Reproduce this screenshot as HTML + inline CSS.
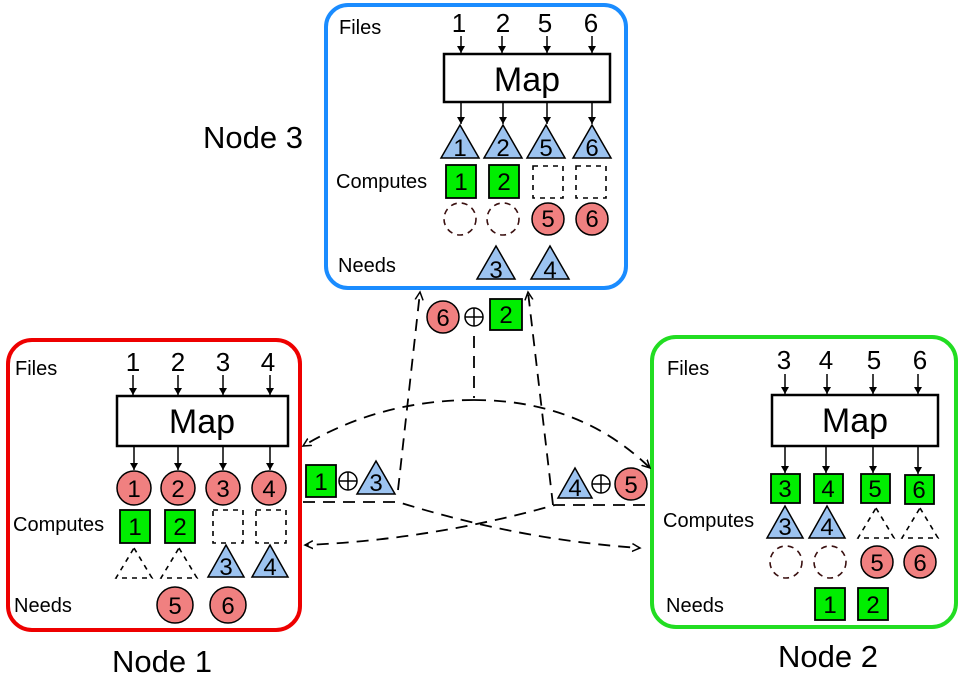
<!DOCTYPE html>
<html><head><meta charset="utf-8"><style>body{margin:0;background:#fff}svg{display:block}text{font-family:"Liberation Sans",sans-serif}</style></head><body>
<svg width="966" height="675" viewBox="0 0 966 675" xmlns="http://www.w3.org/2000/svg">
<defs>
<marker id="a" markerWidth="10" markerHeight="10" refX="8" refY="5" orient="auto" markerUnits="userSpaceOnUse"><path d="M0,1 L8,5 L0,9" fill="none" stroke="#000" stroke-width="1.5"/></marker>
<marker id="s" markerWidth="8" markerHeight="8" refX="7" refY="4" orient="auto" markerUnits="userSpaceOnUse"><path d="M0,0 L7,4 L0,8 z" fill="#000"/></marker>
</defs>
<g fill="none" stroke-width="4">
<rect x="326" y="5" width="300" height="283" rx="22" stroke="#1a8cff"/>
<rect x="8" y="340" width="292" height="290" rx="24" stroke="#ee0000"/>
<rect x="652" y="337" width="304" height="290" rx="24" stroke="#22dd22"/>
</g>
<g fill="none" stroke="#000" stroke-width="1.8" stroke-dasharray="12,8">
<path d="M474 336 L474 398"/>
<path d="M474 400 Q380 400 303 446" marker-end="url(#a)"/>
<path d="M474 400 Q580 400 650 468" marker-end="url(#a)"/>
<path d="M398 490 L420 292" marker-end="url(#a)"/>
<path d="M553 505 L528 292" marker-end="url(#a)"/>
<path d="M303 502 L398 502 Q520 540 640 548" marker-end="url(#a)"/>
<path d="M645 505 L555 505 Q430 540 305 545" marker-end="url(#a)"/>
</g>
<g font-size="20" fill="#000">
<text x="339" y="34">Files</text><text x="336" y="188">Computes</text><text x="338" y="272">Needs</text>
<text x="15" y="375">Files</text><text x="13" y="531">Computes</text><text x="14" y="612">Needs</text>
<text x="667" y="375">Files</text><text x="663" y="527">Computes</text><text x="666" y="612">Needs</text>
</g>
<g font-size="31" fill="#000">
<text x="203" y="148">Node 3</text><text x="112" y="672">Node 1</text><text x="778" y="667">Node 2</text>
</g>
<g fill="#fff" stroke="#000" stroke-width="2.5">
<rect x="444" y="54" width="166" height="48"/><rect x="117" y="396" width="171" height="50"/><rect x="772" y="395" width="166" height="51"/>
</g>
<g font-size="34" text-anchor="middle"><text x="527" y="91">Map</text><text x="202" y="433">Map</text><text x="855" y="432">Map</text></g>
<g font-size="26" text-anchor="middle">
<text x="459" y="32">1</text><text x="503" y="32">2</text><text x="545" y="32">5</text><text x="591" y="32">6</text>
<text x="133" y="371">1</text><text x="178" y="371">2</text><text x="223" y="371">3</text><text x="268" y="371">4</text>
<text x="784" y="369">3</text><text x="826" y="369">4</text><text x="874" y="369">5</text><text x="920" y="369">6</text>
</g>
<g stroke="#000" stroke-width="1.5" marker-end="url(#s)">
<line x1="461" y1="36" x2="461" y2="53"/><line x1="502" y1="36" x2="502" y2="53"/><line x1="547" y1="36" x2="547" y2="53"/><line x1="592" y1="36" x2="592" y2="53"/>
<line x1="461" y1="103" x2="461" y2="124"/><line x1="503" y1="103" x2="503" y2="124"/><line x1="547" y1="103" x2="547" y2="124"/><line x1="592" y1="103" x2="592" y2="124"/>
<line x1="133" y1="375" x2="133" y2="395"/><line x1="178" y1="375" x2="178" y2="395"/><line x1="223" y1="375" x2="223" y2="395"/><line x1="270" y1="375" x2="270" y2="395"/>
<line x1="134" y1="447" x2="134" y2="470"/><line x1="178" y1="447" x2="178" y2="470"/><line x1="223" y1="447" x2="223" y2="470"/><line x1="270" y1="447" x2="270" y2="470"/>
<line x1="785" y1="374" x2="785" y2="394"/><line x1="827" y1="374" x2="827" y2="394"/><line x1="873" y1="374" x2="873" y2="394"/><line x1="918" y1="374" x2="918" y2="394"/>
<line x1="785" y1="447" x2="785" y2="473"/><line x1="826" y1="447" x2="826" y2="473"/><line x1="873" y1="447" x2="873" y2="473"/><line x1="918" y1="447" x2="918" y2="474"/>
</g>
<g fill="#9cc3f0" stroke="#000" stroke-width="1.5">
<path d="M460 125 L479 158 L441 158Z"/><path d="M503 125 L522 158 L484 158Z"/><path d="M546 125 L565 158 L527 158Z"/><path d="M592 125 L611 158 L573 158Z"/>
<path d="M496 246 L515 279 L477 279Z"/><path d="M550 246 L569 279 L531 279Z"/>
<path d="M226 545 L244 577 L208 577Z"/><path d="M270 545 L288 577 L252 577Z"/>
<path d="M785 506 L803 538 L767 538Z"/><path d="M827 506 L845 538 L809 538Z"/>
<path d="M376 461 L395 494 L357 494Z"/><path d="M575 468 L592 498 L558 498Z"/>
</g>
<g fill="none" stroke="#000" stroke-width="1.6" stroke-dasharray="5,5">
<path d="M134 548 L152 578 L116 578Z"/><path d="M179 548 L197 578 L161 578Z"/>
<path d="M876 508 L894 538 L858 538Z"/><path d="M920 508 L938 538 L902 538Z"/>
</g>
<g fill="#00ee00" stroke="#000" stroke-width="1.8">
<rect x="446" y="165" width="30" height="33"/><rect x="489" y="165" width="30" height="33"/>
<rect x="120" y="510" width="30" height="33"/><rect x="165" y="510" width="30" height="33"/>
<rect x="771" y="474" width="29" height="29"/><rect x="814" y="474" width="29" height="29"/><rect x="861" y="474" width="29" height="29"/><rect x="905" y="475" width="29" height="29"/>
<rect x="815" y="588" width="30" height="32"/><rect x="858" y="588" width="30" height="32"/>
<rect x="306" y="465" width="30" height="32"/><rect x="490" y="299" width="32" height="31"/>
</g>
<g fill="none" stroke="#000" stroke-width="1.6" stroke-dasharray="5,5">
<rect x="533" y="166" width="30" height="32"/><rect x="576" y="166" width="30" height="32"/>
<rect x="213" y="510" width="30" height="33"/><rect x="256" y="510" width="30" height="33"/>
</g>
<g fill="#f08080" stroke="#000" stroke-width="1.5">
<circle cx="548" cy="219" r="16"/><circle cx="592" cy="219" r="16"/>
<circle cx="134" cy="488" r="17"/><circle cx="178" cy="488" r="17"/><circle cx="223" cy="488" r="17"/><circle cx="269" cy="488" r="17"/>
<circle cx="175" cy="605" r="18"/><circle cx="228" cy="605" r="18"/>
<circle cx="877" cy="562" r="16"/><circle cx="920" cy="562" r="16"/>
<circle cx="443" cy="317" r="16"/><circle cx="631" cy="484" r="16"/>
</g>
<g fill="none" stroke="#3a1010" stroke-width="1.6" stroke-dasharray="6,5">
<circle cx="460" cy="219" r="16"/><circle cx="503" cy="219" r="16"/>
<circle cx="786" cy="562" r="16"/><circle cx="830" cy="562" r="16"/>
</g>
<g fill="none" stroke="#000" stroke-width="1.5">
<circle cx="474" cy="317" r="9"/><path d="M465 317h18M474 308v18"/>
<circle cx="348" cy="481" r="9"/><path d="M339 481h18M348 472v18"/>
<circle cx="601" cy="484" r="9"/><path d="M592 484h18M601 475v18"/>
</g>
<g font-size="24" text-anchor="middle" fill="#000">
<text x="460" y="156">1</text><text x="503" y="156">2</text><text x="546" y="156">5</text><text x="592" y="156">6</text>
<text x="461" y="190">1</text><text x="504" y="190">2</text>
<text x="548" y="227">5</text><text x="592" y="227">6</text>
<text x="496" y="278">3</text><text x="550" y="278">4</text>
<text x="443" y="326">6</text><text x="506" y="323">2</text>
<text x="134" y="497">1</text><text x="178" y="497">2</text><text x="223" y="497">3</text><text x="269" y="497">4</text>
<text x="135" y="535">1</text><text x="180" y="535">2</text>
<text x="226" y="575">3</text><text x="270" y="575">4</text>
<text x="175" y="614">5</text><text x="228" y="614">6</text>
<text x="321" y="490">1</text><text x="376" y="491">3</text>
<text x="575" y="496">4</text><text x="631" y="493">5</text>
<text x="785" y="497">3</text><text x="828" y="497">4</text><text x="875" y="497">5</text><text x="919" y="498">6</text>
<text x="785" y="535">3</text><text x="827" y="535">4</text>
<text x="877" y="571">5</text><text x="920" y="571">6</text>
<text x="830" y="613">1</text><text x="873" y="613">2</text>
</g>
</svg>
</body></html>
